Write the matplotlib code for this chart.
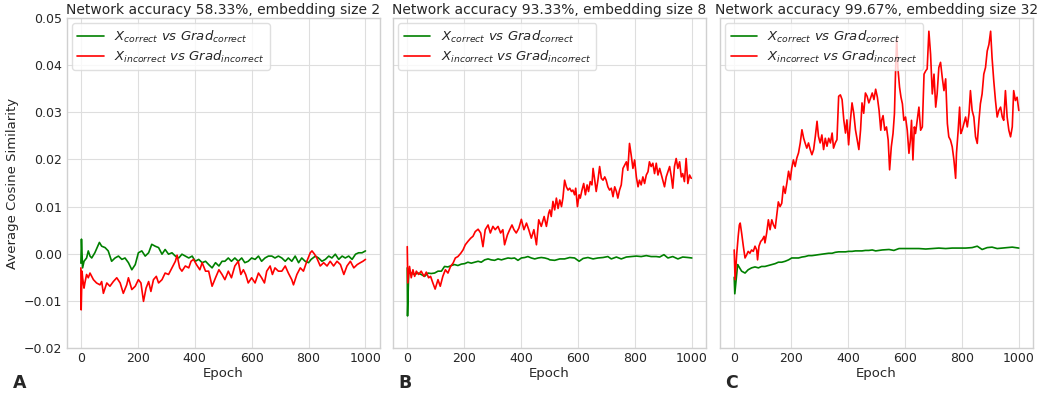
import matplotlib
matplotlib.use("Agg")
import matplotlib.pyplot as plt

# ---- data (epoch, average cosine similarity) ----
titles = ["Network accuracy 58.33%, embedding size 2",
          "Network accuracy 93.33%, embedding size 8",
          "Network accuracy 99.67%, embedding size 32"]
panel_letters = ["A", "B", "C"]
yticks = [-0.02, -0.01, 0.00, 0.01, 0.02, 0.03, 0.04, 0.05]
xticks = [0, 200, 400, 600, 800, 1000]

# Panel A
a_green_epoch = [0, 2, 6, 11, 20, 26, 32, 38, 49, 65, 73, 85, 96, 108, 120, 132, 144, 155, 167, 179,
                 191, 202, 214, 226, 238, 249, 261, 273, 285, 296, 308, 320, 332, 344, 355, 367, 379, 391, 402, 414,
                 426, 438, 449, 461, 473, 485, 496,
                 506, 518, 529, 541, 553, 565, 576, 588, 600, 612, 624, 635, 647, 659, 671, 682, 694, 706, 718, 729,
                 741, 753, 765, 776, 788, 800, 809, 824, 835, 847, 859, 871, 882, 894, 906, 918, 929, 941, 953, 965,
                 976, 988, 1000]
a_green_val = [-0.0020, 0.0031, -0.0030, -0.0016, -0.0009, 0.0006, -0.0005, -0.0009, 0.0002, 0.0024,
               0.0016, 0.0013, 0.0006, -0.0016, -0.0009, -0.0005, -0.0012, -0.0009, -0.0019, -0.0034,
               -0.0023, 0.0002, 0.0006, -0.0005, 0.0002, 0.0020, 0.0016, 0.0013, -0.0001, 0.0009,
               -0.0001, 0.0002, -0.0005, -0.0009, -0.0001, -0.0005, -0.0009, -0.0005, -0.0016, -0.0012,
               -0.0019, -0.0016, -0.0023, -0.0030, -0.0019, -0.0026, -0.0016,
               -0.0016, -0.0009, -0.0016, -0.0009, -0.0016, -0.0009, -0.0019, -0.0016, -0.0009, -0.0012,
               -0.0005, -0.0016, -0.0009, -0.0005, -0.0005, -0.0009, -0.0005, -0.0009, -0.0016, -0.0009,
               -0.0016, -0.0005, -0.0019, -0.0009, -0.0016, -0.0019, -0.0012, -0.0005, -0.0009, -0.0016,
               -0.0012, -0.0005, -0.0009, -0.0001, -0.0012, -0.0005, -0.0009, -0.0005, -0.0012, -0.0001,
               0.0002, 0.0002, 0.0006]
a_red_epoch = [0, 1, 4, 6, 11, 14, 20, 26, 32, 38, 44, 55, 67, 73, 79, 91, 102, 114, 126, 138,
               149, 161, 167, 179, 191, 202, 211, 220, 229, 238, 246, 255, 265, 273, 285, 296, 308, 320, 332, 338,
               347, 355, 367, 379, 387, 396, 406, 418, 426, 438, 449, 461, 473, 485, 496,
               506, 518, 529, 541, 553, 562, 571, 579, 588, 600, 612, 624, 635, 645, 653, 665, 673, 682, 694, 706,
               718, 729, 741, 747, 759, 771, 782, 794, 806, 812, 821, 829, 841, 853, 865, 876, 888, 900, 912, 924,
               935, 947, 959, 971, 982, 991, 1000]
a_red_val = [-0.0030, -0.0119, -0.0037, -0.0051, -0.0073, -0.0062, -0.0044, -0.0051, -0.0041, -0.0048,
             -0.0055, -0.0062, -0.0066, -0.0059, -0.0084, -0.0062, -0.0069, -0.0059, -0.0051, -0.0062,
             -0.0084, -0.0066, -0.0051, -0.0076, -0.0069, -0.0055, -0.0062, -0.0101, -0.0073, -0.0059,
             -0.0080, -0.0055, -0.0048, -0.0062, -0.0055, -0.0041, -0.0044, -0.0030, -0.0016, -0.0003,
             -0.0030, -0.0037, -0.0026, -0.0030, -0.0016, -0.0012, -0.0023, -0.0034, -0.0019, -0.0037,
             -0.0037, -0.0069, -0.0051, -0.0034, -0.0044,
             -0.0055, -0.0037, -0.0051, -0.0026, -0.0016, -0.0044, -0.0034, -0.0044, -0.0062, -0.0051,
             -0.0062, -0.0041, -0.0051, -0.0062, -0.0037, -0.0026, -0.0044, -0.0030, -0.0037, -0.0037,
             -0.0026, -0.0041, -0.0055, -0.0066, -0.0044, -0.0030, -0.0037, -0.0016, 0.0002, 0.0006,
             -0.0001, -0.0009, -0.0026, -0.0019, -0.0026, -0.0016, -0.0026, -0.0016, -0.0023, -0.0044,
             -0.0026, -0.0016, -0.0030, -0.0023, -0.0019, -0.0016, -0.0012]

# Panel B
b_green_epoch = [0, 1, 5, 14, 26, 38, 49, 61, 73, 84, 96, 108, 120, 131, 143, 155, 166, 178, 190, 202,
                 213, 225, 237, 249, 260, 272, 284, 295, 307, 319, 331, 342, 354, 366, 377, 389, 401, 413, 424, 436,
                 448, 460, 471, 483, 495,
                 501, 518, 536, 553, 571, 588, 604, 618, 635, 653, 670, 688, 705, 717, 735, 752, 770, 787, 805, 822,
                 840, 857, 875, 887, 902, 916, 933, 951, 968, 986, 1000]
b_green_val = [-0.0030, -0.0132, -0.0041, -0.0041, -0.0044, -0.0041, -0.0044, -0.0048, -0.0041, -0.0042,
               -0.0041, -0.0037, -0.0037, -0.0027, -0.0028, -0.0025, -0.0023, -0.0025, -0.0022, -0.0021,
               -0.0018, -0.0020, -0.0018, -0.0016, -0.0018, -0.0013, -0.0011, -0.0013, -0.0014, -0.0011,
               -0.0013, -0.0011, -0.0009, -0.0010, -0.0009, -0.0014, -0.0009, -0.0008, -0.0006, -0.0009,
               -0.0011, -0.0009, -0.0008, -0.0009, -0.0011,
               -0.0013, -0.0014, -0.0011, -0.0011, -0.0008, -0.0009, -0.0016, -0.0010, -0.0008, -0.0011,
               -0.0009, -0.0008, -0.0006, -0.0011, -0.0007, -0.0011, -0.0007, -0.0006, -0.0005, -0.0006,
               -0.0004, -0.0006, -0.0006, -0.0007, -0.0002, -0.0009, -0.0006, -0.0011, -0.0007, -0.0008,
               -0.0009]
b_red_epoch = [0, 2, 8, 14, 20, 26, 32, 40, 49, 59, 67, 75, 82, 90, 98, 108, 116, 125, 134, 143,
               152, 161, 169, 178, 188, 196, 204, 213, 223, 231, 239, 249, 258, 266, 274, 284, 292, 301, 309, 319,
               328, 336, 342, 352, 360, 368, 375, 383, 392, 401, 410, 419, 427, 436, 445, 454, 462, 471, 481, 489,
               497,
               501, 506, 512, 518, 524, 530, 536, 542, 547, 553, 559, 565, 571, 577, 582, 588, 592, 598, 604, 608,
               614, 620, 626, 632, 637, 643, 649, 653, 658, 664, 670, 676, 682, 688, 694, 699, 705, 711, 717, 723,
               729, 735, 740, 746, 752, 758, 764, 770, 775, 781, 787, 793, 799, 805, 811, 816, 822, 828, 834, 840,
               846, 851, 857, 863, 869, 875, 881, 887, 892, 898, 904, 910, 916, 922, 928, 933, 939, 945, 951, 957,
               963, 968, 974, 980, 986, 992, 998]
b_red_val = [0.0015, -0.0062, -0.0027, -0.0051, -0.0034, -0.0048, -0.0037, -0.0044, -0.0037, -0.0048,
             -0.0039, -0.0051, -0.0048, -0.0062, -0.0075, -0.0055, -0.0069, -0.0048, -0.0034, -0.0041,
             -0.0027, -0.0020, -0.0009, -0.0006, 0.0001, 0.0008, 0.0019, 0.0026, 0.0033, 0.0037,
             0.0047, 0.0052, 0.0044, 0.0015, 0.0051, 0.0061, 0.0044, 0.0058, 0.0051, 0.0058,
             0.0044, 0.0051, 0.0019, 0.0040, 0.0051, 0.0061, 0.0051, 0.0044, 0.0054, 0.0073,
             0.0051, 0.0065, 0.0051, 0.0033, 0.0051, 0.0019, 0.0072, 0.0058, 0.0079, 0.0058,
             0.0086,
             0.0093, 0.0079, 0.0111, 0.0093, 0.0118, 0.0096, 0.0114, 0.0100, 0.0118, 0.0156,
             0.0142, 0.0135, 0.0139, 0.0132, 0.0135, 0.0125, 0.0139, 0.0100, 0.0125, 0.0118,
             0.0135, 0.0149, 0.0125, 0.0146, 0.0132, 0.0153, 0.0146, 0.0181, 0.0160, 0.0132,
             0.0156, 0.0185, 0.0160, 0.0156, 0.0163, 0.0156, 0.0142, 0.0135, 0.0139, 0.0121,
             0.0142, 0.0132, 0.0118, 0.0135, 0.0146, 0.0181, 0.0188, 0.0195, 0.0177, 0.0234,
             0.0209, 0.0181, 0.0199, 0.0163, 0.0142, 0.0156, 0.0146, 0.0163, 0.0149, 0.0167,
             0.0174, 0.0195, 0.0185, 0.0192, 0.0170, 0.0192, 0.0167, 0.0181, 0.0170, 0.0156,
             0.0142, 0.0163, 0.0174, 0.0185, 0.0163, 0.0139, 0.0185, 0.0202, 0.0181, 0.0195,
             0.0163, 0.0170, 0.0153, 0.0202, 0.0149, 0.0167, 0.0160]

# Panel C
c_green_epoch = [0, 2, 12, 16, 26, 38, 49, 61, 73, 85, 96, 108, 120, 132, 144, 155, 167, 179, 191, 202,
                 214, 226, 238, 249, 261, 273, 285, 296, 308, 320, 332, 344, 355, 367, 379, 391, 402, 414, 426, 438,
                 449, 461, 473, 485, 497, 520, 544, 561, 579, 602, 626, 649, 673, 696, 719, 743, 766, 789, 813, 836,
                 854, 871, 889, 906, 924, 942, 959, 977, 1000]
c_green_val = [-0.0050, -0.0085, -0.0023, -0.0027, -0.0037, -0.0041, -0.0034, -0.0030, -0.0028, -0.0030,
               -0.0027, -0.0027, -0.0025, -0.0023, -0.0021, -0.0018, -0.0018, -0.0016, -0.0013, -0.0009,
               -0.0009, -0.0009, -0.0007, -0.0006, -0.0004, -0.0004, -0.0003, -0.0002, -0.0001, 0.0000,
               0.0001, 0.0001, 0.0003, 0.0004, 0.0004, 0.0004, 0.0005, 0.0005, 0.0006, 0.0006,
               0.0006, 0.0007, 0.0007, 0.0008, 0.0006, 0.0008, 0.0009, 0.0007, 0.0011, 0.0011,
               0.0011, 0.0011, 0.0010, 0.0011, 0.0012, 0.0011, 0.0012, 0.0012, 0.0012, 0.0013,
               0.0016, 0.0009, 0.0013, 0.0014, 0.0011, 0.0012, 0.0013, 0.0014, 0.0012]
c_red_epoch = [0, 3, 9, 14, 18, 21, 26, 32, 38, 44, 49, 55, 61, 67, 73, 79, 82, 87, 93, 99,
               105, 108, 114, 120, 126, 132, 138, 144, 149, 155, 161, 167, 173, 179, 185, 191, 197, 202, 208, 214,
               220, 226, 232, 238, 244, 249, 255, 261, 267, 273, 279, 285, 291, 296, 302, 308, 314, 320, 326, 332,
               338, 344, 349, 355, 361, 367, 373, 379, 385, 391, 396, 402, 408, 414, 420, 426, 432, 438, 444, 449,
               455, 461, 467, 473, 479, 485, 491,
               497, 503, 509, 515, 518, 523, 529, 535, 541, 546, 552, 558, 563, 567, 571, 575, 581, 586, 591, 596,
               602, 608, 614, 619, 623, 628, 633, 637, 643, 649, 655, 661, 667, 673, 678, 684, 690, 696, 702, 708,
               713, 719, 725, 731, 737, 743, 749, 754, 760, 766, 772, 778, 781, 787, 792, 796, 801, 807, 813, 819,
               825, 830, 836, 842, 848, 854, 860, 865, 871, 877, 883, 889, 895, 901, 906, 912, 918, 924, 930, 936,
               942, 947, 953, 959, 965, 971, 977, 982, 988, 994, 1000]
c_red_val = [0.0008, -0.0055, 0.0001, 0.0037, 0.0061, 0.0065, 0.0044, 0.0016, -0.0009, -0.0002,
             0.0005, 0.0001, 0.0008, 0.0005, 0.0016, 0.0008, -0.0013, 0.0016, 0.0026, 0.0030,
             0.0037, 0.0023, 0.0044, 0.0072, 0.0051, 0.0072, 0.0061, 0.0054, 0.0079, 0.0110,
             0.0100, 0.0107, 0.0143, 0.0128, 0.0150, 0.0175, 0.0157, 0.0181, 0.0199, 0.0185,
             0.0203, 0.0214, 0.0235, 0.0263, 0.0245, 0.0235, 0.0224, 0.0235, 0.0221, 0.0210,
             0.0221, 0.0249, 0.0281, 0.0249, 0.0235, 0.0252, 0.0221, 0.0245, 0.0228, 0.0245,
             0.0235, 0.0256, 0.0224, 0.0235, 0.0242, 0.0334, 0.0337, 0.0327, 0.0284, 0.0256,
             0.0284, 0.0231, 0.0281, 0.0320, 0.0298, 0.0263, 0.0242, 0.0221, 0.0263, 0.0320,
             0.0298, 0.0341, 0.0334, 0.0320, 0.0330, 0.0341, 0.0327,
             0.0349, 0.0332, 0.0304, 0.0262, 0.0283, 0.0293, 0.0262, 0.0269, 0.0241, 0.0178,
             0.0227, 0.0255, 0.0297, 0.0388, 0.0458, 0.0395, 0.0353, 0.0332, 0.0318, 0.0283,
             0.0290, 0.0262, 0.0213, 0.0241, 0.0283, 0.0199, 0.0269, 0.0255, 0.0283, 0.0311,
             0.0262, 0.0269, 0.0381, 0.0388, 0.0392, 0.0472, 0.0423, 0.0339, 0.0381, 0.0311,
             0.0339, 0.0395, 0.0406, 0.0374, 0.0346, 0.0371, 0.0276, 0.0248, 0.0241, 0.0227,
             0.0199, 0.0160, 0.0213, 0.0262, 0.0311, 0.0255, 0.0262, 0.0276, 0.0290, 0.0269,
             0.0297, 0.0346, 0.0304, 0.0290, 0.0248, 0.0234, 0.0283, 0.0318, 0.0339, 0.0381,
             0.0395, 0.0430, 0.0444, 0.0472, 0.0416, 0.0367, 0.0325, 0.0290, 0.0304, 0.0311,
             0.0290, 0.0283, 0.0346, 0.0290, 0.0262, 0.0248, 0.0269, 0.0346, 0.0325, 0.0332,
             0.0304]

panels = [
    (a_green_epoch, a_green_val, a_red_epoch, a_red_val),
    (b_green_epoch, b_green_val, b_red_epoch, b_red_val),
    (c_green_epoch, c_green_val, c_red_epoch, c_red_val),
]

plt.style.use("seaborn-v0_8-whitegrid")
plt.rcParams["font.family"] = ["DejaVu Sans"]
plt.rcParams["axes.edgecolor"] = "#d0d0d0"
plt.rcParams["grid.color"] = "#dedede"
plt.rcParams["xtick.color"] = "#262626"
plt.rcParams["ytick.color"] = "#262626"

fig = plt.figure(figsize=(10.4, 3.99), dpi=100)
lefts = [0.0641, 0.3779, 0.6923]
axes = []
for i, left in enumerate(lefts):
    ax = fig.add_axes([left, 0.1278, 0.301, 0.827])
    axes.append(ax)
    g_ep, g_val, r_ep, r_val = panels[i]
    ax.plot(g_ep, g_val, color="green", lw=1.2,
            label=r"$X_{correct}\ vs\ Grad_{correct}$")
    ax.plot(r_ep, r_val, color="red", lw=1.2,
            label=r"$X_{incorrect}\ vs\ Grad_{incorrect}$")
    ax.set_ylim(-0.02, 0.05)
    ax.set_yticks(yticks)
    ax.set_xticks(xticks)
    ax.tick_params(labelsize=9, pad=3)
    ax.set_title(titles[i], fontsize=10, pad=3, color="#262626")
    ax.set_xlabel("Epoch", fontsize=9.5, labelpad=1, color="#262626")
    leg = ax.legend(loc="upper left", fontsize=9.5, frameon=True, borderaxespad=0.4,
                    handlelength=2.0, labelspacing=0.3)
    leg.get_frame().set_edgecolor("#d8d8d8")
    if i == 0:
        ax.set_yticklabels([f"{v:.2f}".replace("-", "\u2212") for v in yticks])
        ax.set_ylabel("Average Cosine Similarity", fontsize=9.5, labelpad=4, color="#262626")
    else:
        ax.set_yticklabels([])
    for s in ax.spines.values():
        s.set_linewidth(1.0)

for i, letter in enumerate(panel_letters):
    fig.text([0.012, 0.383, 0.697][i], 0.04, letter, fontsize=12.5, fontweight="bold",
             ha="left", va="center")

fig.savefig("out.png", dpi=100)
